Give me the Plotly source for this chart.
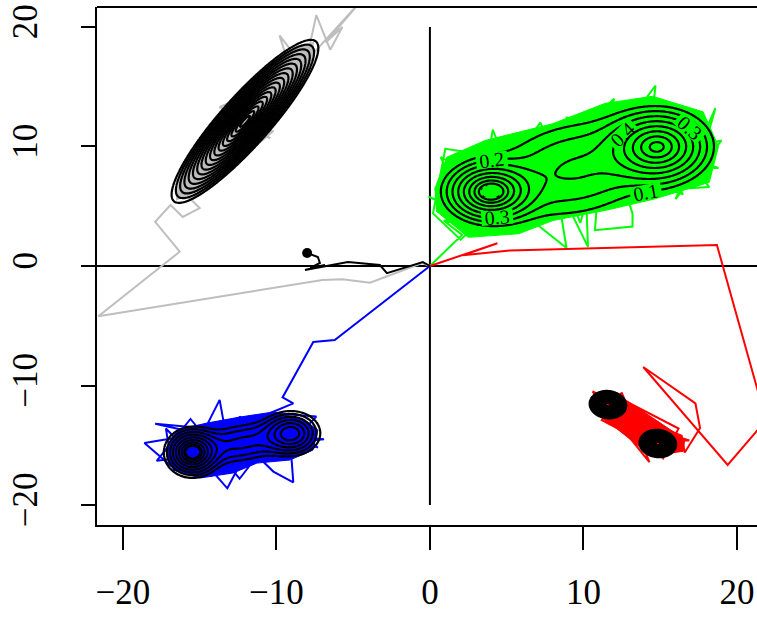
import numpy as np
import plotly.graph_objects as go

# ---------------- chain trajectories ----------------
green_x = [0, 1.3, 2.1, 0.9, 3.0, 0.6, 4.5, -0.1, 2.5, 0.7, 3.8, 1.5, 5.8, 2.8, 6.2, 3.2, 4.1, 5.2, 1.8, 6.8,
           4.5, 7.5, 2.2, 6.0, 4.0, 8.9, 8.2, 5.5, 9.5, 7.0, 10.3, 10.2, 8.9, 11.0, 10.75, 13.2, 13.2, 12.0, 10.9, 13.5,
           16.5, 12.8, 14.7, 14.5, 18.2, 15.5, 17.0, 13.2, 18.8, 14.0, 16.0, 12.2, 17.5, 15.0, 18.2, 14.2, 16.8, 13.0,
           15.8, 11.5, 16.2, 14.9, 9.0, 7.5, 10.0, 6.0, 8.5, 5.0, 3.5, 3.0, 4.8, 19.0, 16.0, 18.6, 17.2, 1.0, 0.2,
           2.0, 12.0, 9.8, 7.2, 3.9]
green_y = [0, 1.6, 2.6, 3.8, 3.4, 5.0, 3.0, 5.8, 4.5, 9.1, 7.0, 7.8, 4.2, 8.6, 6.8, 5.0, 11.4, 7.8, 6.2, 8.9,
           4.2, 5.5, 3.3, 2.9, 6.5, 1.5, 7.0, 9.8, 5.5, 10.2, 1.6, 4.9, 12.5, 7.0, 3.0, 3.3, 4.4, 9.0, 13.3, 7.2,
           6.0, 11.8, 15.1, 12.8, 11.4, 7.2, 12.8, 10.5, 8.2, 8.3, 13.5, 8.0, 9.5, 11.8, 6.6, 6.3, 10.8, 13.0,
           9.0, 10.5, 7.7, 10.0, 9.5, 6.2, 8.5, 10.3, 4.3, 5.2, 9.2, 6.0, 6.6, 10.5, 5.6, 13.2, 6.8, 9.8, 4.4,
           2.2, 14.0, 3.6, 12.0, 6.2]

blue_x = [0, -6.2, -7.6, -9.6, -8.9, -10.4, -7.4, -9.8, -8.2, -11.2, -12.4, -13.0, -13.7, -14.8, -18.6, -16.8,
          -17.2, -14.2, -16.2, -13.2, -11.8, -10.2, -8.9, -9.2, -7.3, -11.6, -14.6, -17.8, -15.6, -12.4, -10.6,
          -7.9, -10.0, -12.0, -15.2, -16.6, -14.0, -11.0, -9.0, -13.0, -17.9, -6.9, -15.5]
blue_y = [0, -6.2, -6.35, -11.0, -11.5, -12.3, -12.6, -15.8, -13.2, -14.0, -12.6, -16.2, -11.2, -14.0, -14.8,
          -16.8, -13.6, -17.6, -14.2, -18.6, -15.2, -17.2, -18.1, -13.0, -15.2, -13.0, -15.8, -16.3, -12.8, -17.8,
          -14.8, -14.3, -12.6, -16.4, -17.4, -15.1, -13.3, -16.0, -14.0, -14.6, -13.2, -14.5, -15.6]

red_x = [0, 4.4, 2.15, 5.2, 18.7, 21.9, 19.4, 13.9, 17.3, 17.6, 16.6, 16.4, 13.0, 15.5, 11.2, 12.5, 14.3, 10.6,
         15.0, 12.0, 16.9, 13.6, 11.5, 14.6, 12.8, 15.8, 11.0, 13.8, 14.2, 10.7, 12.9, 16.2, 15.2, 11.6, 14.85]
red_y = [0, 1.9, 0.9, 1.3, 1.75, -12.9, -16.65, -8.45, -11.5, -13.55, -15.6, -14.2, -12.4, -15.8, -12.9, -10.6,
         -16.4, -10.5, -13.2, -12.6, -14.6, -14.6, -11.0, -14.1, -13.5, -14.6, -11.8, -12.8, -15.4, -12.2, -11.4,
         -13.6, -16.1, -11.6, -14.85]

gray_x = [0, -0.5, -3.9, -5.7, -7.0, -21.6, -16.3, -17.9, -16.9, -16.1, -15.0, -16.37, -14.19, -16.23, -12.9,
          -15.28, -11.62, -14.0, -10.66, -13.13, -9.46, -11.68, -8.5, -10.72, -7.73, -9.36, -9.8, -8.3, -4.4,
          -6.8, -5.7, -6.5, -7.4, -8.0, -10.0, -13.7, -10.4, -13.9, -12.0, -15.8, -13.5, -15.6, -10.2, -14.6,
          -9.0, -12.05]
gray_y = [0, 0.25, -1.4, -1.1, -1.17, -4.2, 1.2, 3.7, 5.1, 4.1, 4.85, 6.58, 7.5, 7.69, 9.05, 9.45, 10.6, 11.0,
          12.37, 12.83, 13.98, 14.26, 15.75, 16.03, 17.62, 17.52, 19.3, 16.8, 22.3, 18.7, 20.0, 18.1, 21.0, 17.5,
          15.3, 13.3, 10.7, 12.5, 9.5, 7.2, 8.0, 5.5, 11.3, 10.2, 14.6, 12.1]

black_x = [0, -0.46, -2.8, -3.26, -5.34, -8.14, -6.84, -7.8, -7.17, -7.3, -8.0]
black_y = [0, 0.33, -0.6, 0.08, 0.33, -0.33, 0.08, -0.17, 0.25, 0.75, 1.09]

# dense parts of each chain (outline of the cloud of samples)
green_cloud_x = [0.3, 1.1, 3.6, 8.0, 11.4, 14.5, 17.8, 18.8, 18.2, 14.6, 11.6, 8.0, 5.8, 2.5, 0.4]
green_cloud_y = [6.4, 9.1, 10.5, 11.9, 13.6, 14.2, 12.9, 10.0, 7.0, 5.6, 4.7, 3.8, 2.7, 2.4, 4.6]
blue_cloud_x = [-17.26, -16.48, -14.53, -12.38, -10.23, -8.27, -7.30, -7.62, -9.12, -11.27, -12.83, -14.98, -16.74]
blue_cloud_y = [-15.40, -13.72, -13.14, -12.64, -12.22, -12.80, -13.72, -15.40, -16.23, -16.49, -17.32, -17.74, -17.07]
red_cloud_x = [11.0, 12.4, 16.6, 16.5, 14.4, 11.2, 10.8]
red_cloud_y = [-10.9, -10.9, -14.5, -15.5, -15.9, -12.6, -11.6]
gray_cloud_x = [-16.52, -16.31, -14.97, -13.38, -11.61, -9.61, -7.58, -7.79, -9.13, -10.72, -12.49, -14.49]
gray_cloud_y = [5.47, 7.74, 10.45, 12.99, 15.43, 17.68, 18.73, 16.46, 13.75, 11.21, 8.77, 6.52]

# ---------------- target densities: (cx, cy, sd_major, sd_minor, angle_deg, weight) ----------------
green_comps = [(3.9, 6.2, 1.5, 1.3, 0, 1.0), (14.9, 10.0, 1.75, 1.6, 0, 0.9), (9.4, 8.1, 3.5, 2.55, 19, 0.30)]
gray_comps = [(-12.05, 12.1, 3.7, 0.8, 56, 1.0)]
blue_comps = [(-15.5, -15.6, 0.9, 1.05, 0, 1.0), (-9.0, -14.0, 1.0, 1.0, 0, 0.7), (-12.25, -14.8, 2.0, 1.07, 14, 0.32)]
red_comps = [(11.6, -11.6, 0.54, 0.5, -30, 1.0), (14.85, -14.85, 0.54, 0.5, -30, 1.0)]

tick_vals = [-20, -10, 0, 10, 20]
tick_text = ["\u221220", "\u221210", "0", "10", "20"]

XR = [-21.69, 21.31]
YR = [-21.67, 21.67]


def density(xs, ys, comps):
    X, Y = np.meshgrid(xs, ys)
    Z = np.zeros_like(X)
    for cx, cy, s1, s2, ang, w in comps:
        a = np.deg2rad(ang)
        dx, dy = X - cx, Y - cy
        u = dx * np.cos(a) + dy * np.sin(a)
        v = -dx * np.sin(a) + dy * np.cos(a)
        Z += w * np.exp(-0.5 * ((u / s1) ** 2 + (v / s2) ** 2))
    return Z


def surface(xs, ys, comps, zmax, slope):
    G = np.maximum(density(xs, ys, comps), 1e-300)
    return zmax - slope * np.sqrt(-2.0 * np.log(G))


fig = go.Figure()

for cx_, cy_, col in [(gray_cloud_x, gray_cloud_y, "#BEBEBE"), (green_cloud_x, green_cloud_y, "#00FF00"),
                      (blue_cloud_x, blue_cloud_y, "#0000FF"), (red_cloud_x, red_cloud_y, "#FF0000")]:
    fig.add_trace(go.Scatter(x=cx_, y=cy_, mode="lines", fill="toself", fillcolor=col,
                             line=dict(color=col, width=1), hoverinfo="skip"))

lw = 2
for xs, ys, col in [(gray_x, gray_y, "#BEBEBE"), (green_x, green_y, "#00FF00"), (red_x, red_y, "#FF0000"),
                    (blue_x, blue_y, "#0000FF"), (black_x, black_y, "black")]:
    fig.add_trace(go.Scatter(x=xs, y=ys, mode="lines", line=dict(color=col, width=lw), hoverinfo="skip"))

fig.add_trace(go.Scatter(x=[black_x[-1]], y=[black_y[-1]], mode="markers",
                         marker=dict(color="black", size=10), hoverinfo="skip"))

black_scale = [[0, "black"], [1, "black"]]
lab_font = dict(family="Liberation Serif", size=20, color="black")


def add_contour(xs, ys, z, start, end, size, labels=False, width=2.2, fmt=".1f"):
    fig.add_trace(go.Contour(
        x=xs, y=ys, z=z, xaxis="x2", yaxis="y2",
        contours=dict(start=start, end=end, size=size, coloring="lines", showlabels=labels,
                      labelfont=lab_font, labelformat=fmt),
        colorscale=black_scale, showscale=False, line=dict(width=width), hoverinfo="skip"))


gx = np.linspace(-2, 22, 240)
gy = np.linspace(-1, 17, 200)
gz = surface(gx, gy, green_comps, 0.93, 0.40)
add_contour(gx, gy, gz, 0.1, 0.4, 0.1, labels=True)
add_contour(gx, gy, gz, 0.5, 0.95, 0.1)

hx = np.linspace(-20, -3, 260)
hy = np.linspace(1, 23, 300)
add_contour(hx, hy, surface(hx, hy, gray_comps, 0.06, 0.025), 0.005, 0.057, 0.0032, width=2.2)

bx = np.linspace(-21, -4, 240)
by = np.linspace(-21, -9, 200)
add_contour(bx, by, surface(bx, by, blue_comps, 1.0, 0.45), 0.1, 0.95, 0.1)

rx = np.linspace(9, 18, 200)
ry = np.linspace(-18, -9, 200)
add_contour(rx, ry, density(rx, ry, red_comps), 0.08, 0.96, 0.04)

axis_font = dict(family="Liberation Serif", size=35, color="black")
fig.update_layout(
    width=757, height=620, margin=dict(l=97, r=0, t=7, b=95),
    paper_bgcolor="white", plot_bgcolor="white", showlegend=False,
    xaxis=dict(range=XR, showgrid=False, zeroline=False, showline=True, linecolor="black", linewidth=2,
               ticks="outside", ticklen=23, tickwidth=2, tickcolor="black", tickvals=tick_vals,
               ticktext=tick_text, tickfont=axis_font, ticklabelstandoff=12, automargin=False),
    yaxis=dict(range=YR, showgrid=False, zeroline=False, showline=True, linecolor="black", linewidth=2,
               ticks="outside", ticklen=14, tickwidth=2, tickcolor="black", tickvals=tick_vals,
               ticktext=tick_text, tickfont=axis_font, tickangle=-90, ticklabelstandoff=30, automargin=False),
    xaxis2=dict(range=XR, overlaying="x", visible=False),
    yaxis2=dict(range=YR, overlaying="y", visible=False),
    shapes=[
        dict(type="line", xref="paper", yref="paper", x0=0, x1=1, y0=1, y1=1,
             line=dict(color="black", width=2)),
        dict(type="line", xref="paper", yref="y", x0=0, x1=1, y0=0, y1=0,
             line=dict(color="black", width=2), layer="below"),
        dict(type="line", xref="x", yref="y", x0=0, x1=0, y0=-20, y1=20,
             line=dict(color="black", width=2), layer="below"),
    ],
)

fig.write_html("out.html", config={"displayModeBar": False},
               post_script="document.body.style.margin='0px';")
